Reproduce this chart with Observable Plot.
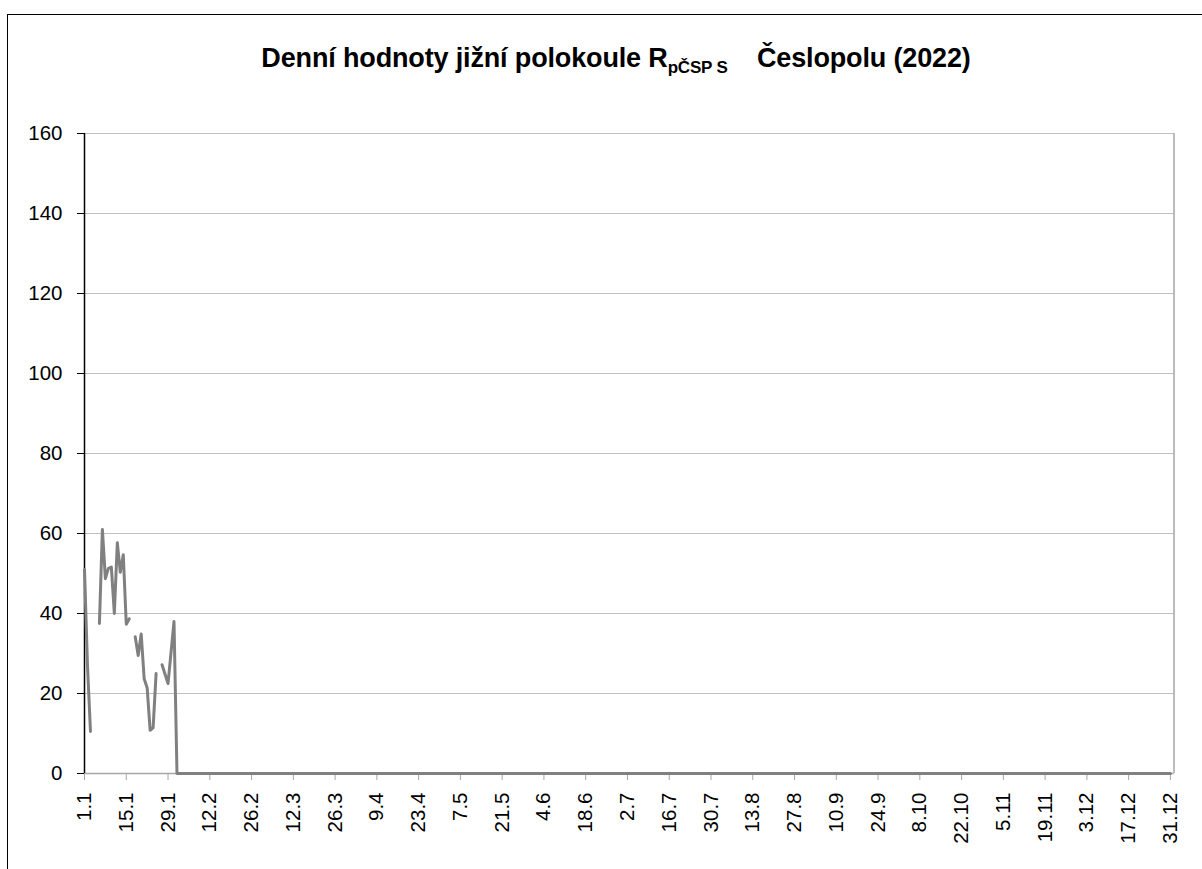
<!DOCTYPE html>
<html>
<head>
<meta charset="utf-8">
<script src="https://cdn.jsdelivr.net/npm/d3@7"></script>
<script src="https://cdn.jsdelivr.net/npm/@observablehq/plot@0.6"></script>
<style>
  body { margin: 0; background: #fff; font-family: "Liberation Sans", Arial, sans-serif; }
  #wrap { position: relative; width: 1202px; height: 869px; overflow: hidden; background: #fff; }
  #border { position: absolute; left: 7px; top: 14px; width: 1300px; height: 1000px; border: 1.5px solid #000; box-sizing: border-box; }
  #title { position: absolute; left: 30px; width: 1172px; top: 43px; text-align: center; font-weight: bold; font-size: 27px; line-height: 30px; color: #000; letter-spacing: -0.15px; }
  #title sub { font-size: 17px; vertical-align: -6px; line-height: 0; letter-spacing: -0.2px; }
  #chart { position: absolute; left: 0; top: 0; }
</style>
</head>
<body>
<div id="wrap">
  <div id="border"></div>
  <div id="title">Denní hodnoty jižní polokoule R<sub>pČSP S</sub>&nbsp;&nbsp;&nbsp; Česlopolu (2022)</div>
  <div id="chart"></div>
</div>
<script>
// January daily values (null = no observation)
const janValues = [51, 27, 10.5, null, null, 37.5, 61, 48.7, 51.3, 51.6,
                   40, 57.7, 50.3, 54.7, 37.3, 38.7, null, 34.2, 29.5, 34.9,
                   23.7, 21.4, 10.8, 11.4, 25, null, 27.2, 24.8, 22.5, 30.2,
                   38];
// 1 Feb – 31 Dec daily values (334 days)
const febToDecValues = [
  0,0,0,0,0,0,0,0,0,0, 0,0,0,0,0,0,0,0,0,0, 0,0,0,0,0,0,0,0,0,0,
  0,0,0,0,0,0,0,0,0,0, 0,0,0,0,0,0,0,0,0,0, 0,0,0,0,0,0,0,0,0,0,
  0,0,0,0,0,0,0,0,0,0, 0,0,0,0,0,0,0,0,0,0, 0,0,0,0,0,0,0,0,0,0,
  0,0,0,0,0,0,0,0,0,0, 0,0,0,0,0,0,0,0,0,0, 0,0,0,0,0,0,0,0,0,0,
  0,0,0,0,0,0,0,0,0,0, 0,0,0,0,0,0,0,0,0,0, 0,0,0,0,0,0,0,0,0,0,
  0,0,0,0,0,0,0,0,0,0, 0,0,0,0,0,0,0,0,0,0, 0,0,0,0,0,0,0,0,0,0,
  0,0,0,0,0,0,0,0,0,0, 0,0,0,0,0,0,0,0,0,0, 0,0,0,0,0,0,0,0,0,0,
  0,0,0,0,0,0,0,0,0,0, 0,0,0,0,0,0,0,0,0,0, 0,0,0,0,0,0,0,0,0,0,
  0,0,0,0,0,0,0,0,0,0, 0,0,0,0,0,0,0,0,0,0, 0,0,0,0,0,0,0,0,0,0,
  0,0,0,0,0,0,0,0,0,0, 0,0,0,0,0,0,0,0,0,0, 0,0,0,0,0,0,0,0,0,0,
  0,0,0,0,0,0,0,0,0,0, 0,0,0,0,0,0,0,0,0,0, 0,0,0,0,0,0,0,0,0,0,
  0,0,0,0
];
const tickDays = [1, 15, 29, 43, 57, 71, 85, 99, 113, 127, 141, 155, 169, 183,
                  197, 211, 225, 239, 253, 267, 281, 295, 309, 323, 337, 351, 365];
const tickLabels = ["1.1", "15.1", "29.1", "12.2", "26.2", "12.3", "26.3", "9.4", "23.4",
                    "7.5", "21.5", "4.6", "18.6", "2.7", "16.7", "30.7", "13.8", "27.8",
                    "10.9", "24.9", "8.10", "22.10", "5.11", "19.11", "3.12", "17.12", "31.12"];
const yTicks = [0, 20, 40, 60, 80, 100, 120, 140, 160];

const values = janValues.concat(febToDecValues);
const data = values.map((v, i) => ({day: i + 1, value: v}));
const xMax = 366.2; // right edge of plot area (half a category past 31.12)

const chart = Plot.plot({
  width: 1202,
  height: 869,
  marginLeft: 84,
  marginRight: 28.5,
  marginTop: 133,
  marginBottom: 96,
  style: {fontFamily: "'Liberation Sans', Arial, sans-serif", fontSize: "20px", background: "transparent", overflow: "visible"},
  x: {domain: [1, xMax]},
  y: {domain: [0, 160]},
  marks: [
    Plot.gridY(yTicks, {stroke: "#c0c0c0", strokeOpacity: 1, strokeWidth: 1}),
    Plot.ruleX([xMax], {stroke: "#a6a6a6", strokeWidth: 1.5}),
    Plot.ruleY([0], {stroke: "#a6a6a6", strokeWidth: 1.5}),
    Plot.axisX({ticks: tickDays, tickFormat: (d, i) => tickLabels[tickDays.indexOf(d)],
                tickRotate: -90, tickSize: 7, tickPadding: 12, stroke: "#a6a6a6", fill: "#000",
                fontSize: 20.5, label: null}),
    Plot.axisY({ticks: yTicks, tickSize: 7, tickPadding: 15, stroke: "#000", fill: "#000",
                fontSize: 20.5, label: null}),
    Plot.ruleX([1], {stroke: "#000", strokeWidth: 1.5}),
    Plot.line(data, {x: "day", y: "value", stroke: "#808080", strokeWidth: 3})
  ]
});
document.getElementById("chart").appendChild(chart);
</script>
</body>
</html>
